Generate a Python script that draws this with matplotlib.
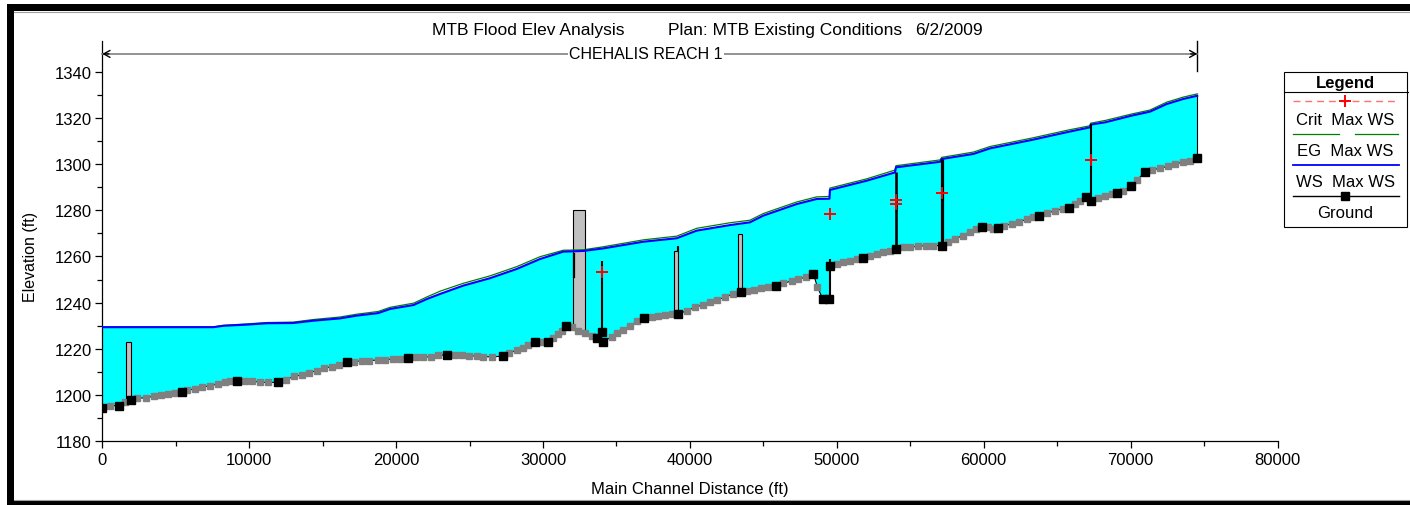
import matplotlib
matplotlib.use("Agg")
import matplotlib.pyplot as plt
from matplotlib.patches import Rectangle
import numpy as np

plt.rcParams['font.family'] = ['Liberation Sans', 'DejaVu Sans']

# ---------------------------------------------------------------- data
# Water surface (WS Max WS) along the main channel, ft
ws_sta = [0, 7560, 8240, 9830, 11190, 13000, 14360, 16180, 17310, 18780,
          19600, 21190, 22100, 23000, 24575, 26390, 28210, 29795, 31380, 32745,
          34105, 36830, 39100, 40465, 42730, 44090, 45000, 47270, 48630, 49500,
          49530, 52030, 53960, 54030, 57030, 57140, 59300, 60430, 63380, 65650,
          67240, 67285, 68280, 70090, 71320, 72455, 73590, 74540]
ws_elev = [1229.4, 1229.4, 1230.0, 1230.5, 1231.1, 1231.2, 1232.2, 1233.2, 1234.4, 1235.5,
           1237.3, 1239.0, 1241.6, 1243.8, 1247.4, 1250.6, 1254.6, 1258.9, 1262.1, 1262.4,
           1263.5, 1266.4, 1267.9, 1271.2, 1273.6, 1274.8, 1277.7, 1282.7, 1284.9, 1285.0,
           1288.8, 1292.8, 1296.4, 1298.6, 1301.0, 1302.2, 1304.4, 1306.8, 1310.6, 1313.8,
           1315.9, 1317.1, 1318.1, 1321.0, 1322.7, 1326.0, 1328.2, 1329.6]
# Energy grade (EG Max WS) at the same stations
eg_elev = [1229.5, 1229.5, 1230.2, 1230.8, 1231.4, 1231.6, 1232.7, 1233.8, 1235.0, 1236.2,
           1238.0, 1239.8, 1242.5, 1245.0, 1248.4, 1251.6, 1255.6, 1259.9, 1262.7, 1262.9,
           1264.2, 1267.2, 1268.8, 1272.2, 1274.6, 1275.7, 1278.6, 1283.6, 1285.8, 1286.0,
           1289.6, 1293.6, 1297.4, 1299.3, 1301.8, 1302.9, 1305.2, 1307.6, 1311.4, 1314.6,
           1316.6, 1317.7, 1318.9, 1321.7, 1323.4, 1326.8, 1329.0, 1330.4]

# Channel invert (Ground); surveyed sections flagged 1, interpolated sections 0
ground_sta = [0, 524, 1137, 1545, 1954, 2340, 2950, 3520, 3975, 4495,
              4950, 5400, 5790, 6310, 6810, 7330, 7900, 8350, 8690, 9190,
              9710, 10170, 10730, 11300, 11980, 12500, 13050, 13570, 14090, 14590,
              15090, 15610, 16130, 16640, 17130, 17660, 18180, 18750, 19240, 19770,
              20270, 20830, 21350, 21850, 22380, 22870, 23440, 24010, 24465, 24985,
              25490, 25940, 26510, 27260, 27685, 28210, 28660, 29000, 29455, 29910,
              30360, 30700, 31040, 31270, 31545, 31955, 32400, 32860, 33315, 33655,
              34105, 34680, 35020, 35470, 35920, 36420, 36875, 37400, 37850, 38305,
              38760, 39210, 39780, 40350, 40870, 41370, 41865, 42390, 42910, 43460,
              43870, 44365, 44820, 45340, 45860, 46360, 46930, 47385, 47910, 48410,
              48685, 49050, 49500, 49530, 49990, 50440, 50900, 51355, 51765, 52260,
              52715, 53165, 53620, 54030, 54525, 54980, 55550, 56070, 56570, 57140,
              57590, 58045, 58570, 59070, 59475, 59865, 60315, 60655, 60995, 61385,
              61905, 62425, 62925, 63375, 63785, 64330, 64850, 65375, 65830, 66215,
              66555, 66965, 67285, 67800, 68260, 68715, 69055, 69505, 70030, 70460,
              70985, 71440, 72010, 72575, 73030, 73550, 74050, 74540]
ground_elev = [1194.3, 1195.4, 1195.4, 1196.9, 1198.0, 1198.7, 1198.8, 1199.5, 1199.9, 1200.3,
               1200.8, 1201.2, 1202.2, 1202.6, 1203.4, 1204.1, 1204.8, 1205.5, 1206.0, 1206.2,
               1206.2, 1206.2, 1205.5, 1205.5, 1205.5, 1206.7, 1208.1, 1208.7, 1209.6, 1210.6,
               1211.6, 1212.3, 1213.0, 1214.2, 1214.5, 1214.8, 1214.8, 1215.3, 1215.3, 1215.6,
               1215.6, 1215.9, 1216.5, 1216.5, 1216.5, 1217.2, 1217.4, 1217.3, 1217.2, 1217.1,
               1216.8, 1216.6, 1216.6, 1216.8, 1218.2, 1219.4, 1220.5, 1221.7, 1223.1, 1223.1,
               1222.9, 1224.6, 1226.5, 1227.9, 1230.1, 1229.5, 1227.9, 1226.7, 1225.7, 1224.7,
               1223.1, 1225.3, 1226.9, 1228.2, 1230.1, 1231.9, 1233.2, 1233.9, 1234.4, 1234.7,
               1235.0, 1235.1, 1236.5, 1238.0, 1239.0, 1240.2, 1241.3, 1242.3, 1243.8, 1244.8,
               1245.2, 1245.6, 1246.2, 1246.9, 1247.2, 1248.4, 1249.4, 1250.3, 1251.0, 1252.4,
               1246.7, 1241.6, 1241.6, 1255.7, 1256.8, 1257.5, 1258.2, 1258.9, 1259.4, 1260.4,
               1261.1, 1261.8, 1262.5, 1263.2, 1264.0, 1264.0, 1264.4, 1264.7, 1264.7, 1264.7,
               1266.4, 1267.6, 1269.0, 1270.7, 1271.9, 1272.9, 1272.6, 1271.9, 1272.3, 1273.3,
               1274.1, 1274.8, 1276.2, 1277.0, 1277.7, 1278.8, 1279.8, 1280.6, 1281.1, 1282.7,
               1284.2, 1285.6, 1284.2, 1285.2, 1286.1, 1287.1, 1287.5, 1288.5, 1290.4, 1293.3,
               1296.5, 1297.4, 1298.2, 1299.0, 1300.0, 1300.8, 1301.5, 1302.6]
ground_surveyed = [1, 0, 1, 0, 1, 0, 0, 0, 0, 0,
                   0, 1, 0, 0, 0, 0, 0, 0, 0, 1,
                   0, 0, 0, 0, 1, 0, 0, 0, 0, 0,
                   0, 0, 0, 1, 0, 0, 0, 0, 0, 0,
                   0, 1, 0, 0, 0, 0, 1, 0, 0, 0,
                   0, 0, 0, 1, 0, 0, 0, 0, 1, 0,
                   1, 0, 0, 0, 1, 0, 0, 0, 0, 1,
                   1, 0, 0, 0, 0, 0, 1, 0, 0, 0,
                   0, 1, 0, 0, 0, 0, 0, 0, 0, 1,
                   0, 0, 0, 0, 1, 0, 0, 0, 0, 1,
                   0, 1, 1, 1, 0, 0, 0, 0, 1, 0,
                   0, 0, 0, 1, 0, 0, 0, 0, 0, 1,
                   0, 0, 0, 0, 0, 1, 0, 0, 1, 0,
                   0, 0, 0, 0, 1, 0, 0, 0, 1, 0,
                   0, 1, 1, 0, 0, 0, 1, 0, 1, 0,
                   1, 0, 0, 0, 0, 0, 0, 1]

# Critical depth (Crit Max WS)
crit_sta = [34000, 49530, 54030, 54030, 57140, 67285]
crit_elev = [1253.2, 1278.6, 1284.6, 1282.7, 1287.5, 1301.9]

# Bridge decks: left/right station, low and high elevation
deck_left = [1613, 32060, 38920, 39130, 43300]
deck_right = [1954, 32860, 39210, 39210, 43530]
deck_low = [1197.5, 1228.0, 1235.5, 1262.5, 1244.5]
deck_high = [1222.9, 1280.3, 1262.5, 1264.4, 1269.6]

# Pier inside the large deck
pier_sta = 32100
pier_low, pier_high = 1251.0, 1261.1

# Inline structures / section end lines
struct_sta = [34000, 49530, 54030, 57140, 67285, 74540]
struct_low = [1227.4, 1241.6, 1263.2, 1264.7, 1284.2, 1302.6]
struct_high = [1258.2, 1258.9, 1296.4, 1302.2, 1317.4, 1329.6]
struct_lw = [1.5, 1.5, 1.9, 2.3, 1.5, 0.8]

# Reach extent
reach_name = 'CHEHALIS REACH 1'
reach_start, reach_end = 0, 74540
reach_elev = 1347.7

x_ticks = [0, 10000, 20000, 30000, 40000, 50000, 60000, 70000, 80000]
x_tick_labels = ['0', '10000', '20000', '30000', '40000', '50000', '60000', '70000', '80000']
y_ticks = [1180, 1200, 1220, 1240, 1260, 1280, 1300, 1320, 1340]
y_tick_labels = ['1180', '1200', '1220', '1240', '1260', '1280', '1300', '1320', '1340']

# ---------------------------------------------------------------- figure
W, H, DPI = 1410, 506, 100
fig = plt.figure(figsize=(W / DPI, H / DPI), dpi=DPI)
fig.patch.set_facecolor('white')

X0, X1 = 102.3, 1277.5
Y_BOT, Y_TOP = 442.3, 41.5
ax = fig.add_axes([X0 / W, 1 - Y_BOT / H, (X1 - X0) / W, (Y_BOT - Y_TOP) / H])
ax.set_xlim(0, 80000)
ax.set_ylim(1180, 1353.5)
ax.patch.set_alpha(0)

gs = np.array(ground_sta, dtype=float)
ge = np.array(ground_elev, dtype=float)
gflag = np.array(ground_surveyed, dtype=bool)

# water body between ground and water surface
poly_x = list(ws_sta) + list(gs[::-1])
poly_y = list(ws_elev) + list(ge[::-1])
ax.fill(poly_x, poly_y, color='#00ffff', lw=0, zorder=1)

# bridge decks
for l, r, lo, hi in zip(deck_left, deck_right, deck_low, deck_high):
    ax.add_patch(Rectangle((l, lo), r - l, hi - lo, facecolor='#c0c0c0',
                           edgecolor='black', lw=0.8, zorder=2))
ax.plot([pier_sta, pier_sta], [pier_low, pier_high], color='black', lw=1.6, zorder=3)

# EG and WS profiles
ax.plot(ws_sta, eg_elev, color='#008000', lw=0.9, zorder=3)
ax.plot(ws_sta, ws_elev, color='#0000ff', lw=1.5, zorder=4)

# structure lines
for s, lo, hi, lw in zip(struct_sta, struct_low, struct_high, struct_lw):
    ax.plot([s, s], [lo, hi], color='black', lw=lw, zorder=5, solid_capstyle='butt')
ax.plot([struct_sta[0]], [struct_low[0]], ls='none', marker='s', ms=5.2,
        mfc='black', mec='black', zorder=8)

# ground profile
ax.plot(gs, ge, color='black', lw=0.8, zorder=6)
ax.plot(gs[~gflag], ge[~gflag], ls='none', marker='s', ms=4.8, mfc='#808080',
        mec='#808080', zorder=7)
ax.plot(gs[gflag], ge[gflag], ls='none', marker='s', ms=5.2, mfc='black',
        mec='black', zorder=8)

# critical depth markers
ax.plot(crit_sta, crit_elev, ls='none', marker='+', ms=8, mew=1.4, color='red', zorder=9)

# reach extent line
ax.plot([reach_start, reach_end], [reach_elev, reach_elev], color='#808080', lw=1.2,
        zorder=5, clip_on=False)
head = dict(arrowstyle='->,head_length=0.45,head_width=0.25', color='black', lw=1.0,
            shrinkA=0, shrinkB=0)
ax.annotate('', xy=(reach_start, reach_elev), xytext=(reach_start + 450, reach_elev),
            arrowprops=head, zorder=6)
ax.annotate('', xy=(reach_end, reach_elev), xytext=(reach_end - 450, reach_elev),
            arrowprops=head, zorder=6)
ax.plot([reach_end, reach_end], [1340.5, 1353.5], color='black', lw=1.0, clip_on=False)
ax.text(37000, reach_elev, reach_name, ha='center', va='center', fontsize=11.5,
        bbox=dict(facecolor='white', edgecolor='none', pad=1.0), zorder=7)

# axes styling
for side in ('top', 'right'):
    ax.spines[side].set_visible(False)
for side in ('left', 'bottom'):
    ax.spines[side].set_color('black')
    ax.spines[side].set_linewidth(0.9)
ax.set_xticks(x_ticks)
ax.set_xticklabels(x_tick_labels)
ax.set_xticks(np.arange(5000, 80000, 10000), minor=True)
ax.set_yticks(y_ticks)
ax.set_yticklabels(y_tick_labels)
ax.set_yticks(np.arange(1190, 1340, 20), minor=True)
ax.tick_params(which='major', length=5, width=0.9, labelsize=12, pad=2.5, colors='black')
ax.tick_params(which='minor', length=3.5, width=0.9)

# ---------------------------------------------------------------- overlay
ov = fig.add_axes([0, 0, 1, 1], zorder=10)
ov.set_xlim(0, W)
ov.set_ylim(H, 0)
ov.axis('off')
ov.patch.set_alpha(0)

# window frame
ov.add_patch(Rectangle((7, 5), 7, H - 5, facecolor='black', edgecolor='none'))
ov.add_patch(Rectangle((7, 5), W - 7, 7, facecolor='black', edgecolor='none'))
ov.add_patch(Rectangle((7, 502), W - 7, 4, facecolor='black', edgecolor='none'))
ov.plot([14, W], [12.7, 12.7], color='#a0a0a0', lw=0.8)
ov.plot([14, W], [500.6, 500.6], color='#a0a0a0', lw=0.8)

# title
ov.text(432, 34.5, 'MTB Flood Elev Analysis', fontsize=12.5, ha='left', va='baseline')
ov.text(668, 34.5, 'Plan: MTB Existing Conditions', fontsize=12.5, ha='left', va='baseline')
ov.text(915, 34.5, '6/2/2009', fontsize=12.5, ha='left', va='baseline')

# axis titles
ov.text(30.7, 256.7, 'Elevation (ft)', rotation=90, ha='center', va='center', fontsize=11.5)
ov.text(690, 489.5, 'Main Channel Distance (ft)', ha='center', va='center', fontsize=12)

# legend
LX0, LX1, LY0, LY1 = 1284, 1406.5, 72.7, 228.3
LC = (LX0 + LX1) / 2
ov.add_patch(Rectangle((LX0, LY0), LX1 - LX0, LY1 - LY0, facecolor='white',
                       edgecolor='black', lw=0.8))
ov.plot([LX0, 1408], [93.3, 93.3], color='black', lw=0.8)
ov.text(LC, 83, 'Legend', fontsize=12, fontweight='bold', ha='center', va='center')
ov.plot([1292.7, 1395], [102.3, 102.3], color='#ff7070', lw=1.0, dashes=(5, 3.5))
ov.plot([LC], [102.3], ls='none', marker='+', ms=8, mew=1.4, color='red')
ov.text(LC, 120, 'Crit  Max WS', fontsize=12, ha='center', va='center')
ov.plot([1292.7, 1339.3], [135.3, 135.3], color='#008000', lw=0.9)
ov.plot([1355, 1398.3], [135.3, 135.3], color='#008000', lw=0.9)
ov.text(LC, 151, 'EG  Max WS', fontsize=12, ha='center', va='center')
ov.plot([1292.7, 1399], [166, 166], color='#0000ff', lw=1.3)
ov.text(LC, 182, 'WS  Max WS', fontsize=12, ha='center', va='center')
ov.plot([1292.7, 1399], [196.7, 196.7], color='black', lw=1.0)
ov.plot([LC], [196.7], ls='none', marker='s', ms=5.2, color='black')
ov.text(LC, 213, 'Ground', fontsize=12, ha='center', va='center')

fig.savefig('out.png', dpi=DPI)
